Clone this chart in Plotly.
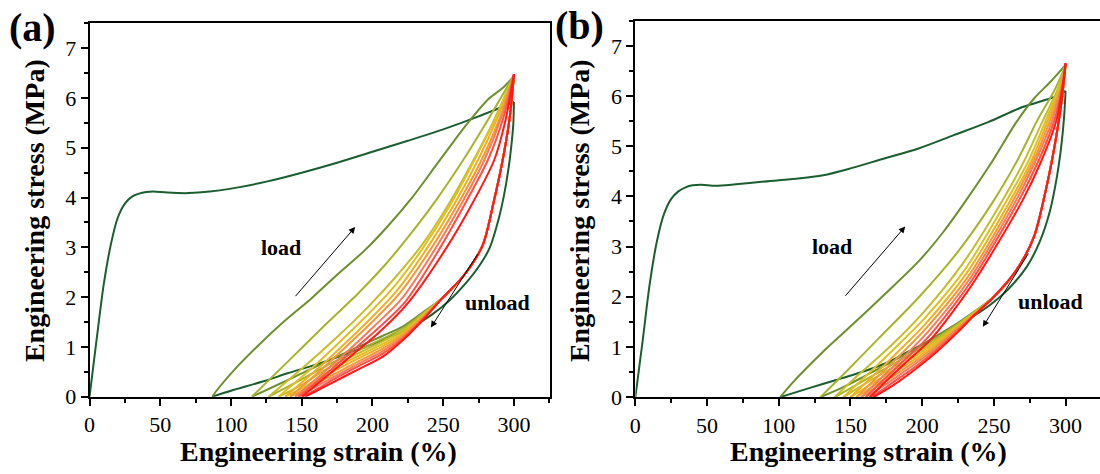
import plotly.graph_objects as go

# ---------------- colours for cycles 1..10 ----------------
CYCLE_COLORS = ["#1b5e30", "#6e8f2c", "#a8b32c", "#c7bd25", "#dfc01f",
                "#eeae28", "#f4963a", "#f77b5c", "#f9514b", "#ff1a1a"]

# ---------------- panel (a) ----------------
A_LOAD_STRAIN = [
    [0, 5, 10, 15, 20, 25, 30, 35, 40, 45, 55, 70, 85, 100, 125, 150, 175, 200, 225, 250, 275, 300],
    [86.7, 90, 102, 120, 137, 157, 175, 194.5, 210, 228, 245, 258, 268, 282, 292, 300],
    [114.8, 140, 165, 190, 207.4, 225, 245, 264, 282, 300],
    [126.6, 150, 175, 195, 215, 235, 252, 268.5, 285, 300],
    [133.6, 155, 175, 195, 215, 236, 255, 272, 287, 300],
    [138.3, 158, 178, 197, 217, 239, 257.5, 274.5, 288, 300],
    [141.8, 161, 180, 199, 219, 242, 260, 277, 290, 300],
    [145.3, 164, 183, 201, 221, 245, 263, 279, 291, 300],
    [147.7, 166, 185, 203, 223, 248, 265.5, 281.5, 292.5, 300],
    [150, 168, 187, 205, 225, 252.5, 270, 286, 294, 300],
]
A_LOAD_STRESS = [
    [0, 1.15, 2.25, 3.05, 3.6, 3.88, 4.02, 4.08, 4.11, 4.12, 4.10, 4.09, 4.12, 4.18, 4.32, 4.50, 4.70, 4.92, 5.14, 5.37, 5.63, 5.92],
    [0, 0.13, 0.53, 1.05, 1.5, 1.98, 2.45, 2.94, 3.4, 4.0, 4.65, 5.15, 5.52, 5.98, 6.2, 6.44],
    [0, 0.7, 1.4, 2.08, 2.6, 3.2, 3.95, 4.75, 5.58, 6.45],
    [0, 0.56, 1.2, 1.75, 2.36, 3.05, 3.78, 4.6, 5.5, 6.45],
    [0, 0.52, 1.05, 1.6, 2.2, 3.0, 3.85, 4.75, 5.6, 6.46],
    [0, 0.48, 1.0, 1.52, 2.12, 3.0, 3.85, 4.75, 5.58, 6.46],
    [0, 0.47, 0.97, 1.48, 2.07, 3.0, 3.85, 4.75, 5.6, 6.47],
    [0, 0.45, 0.93, 1.41, 1.98, 3.0, 3.88, 4.75, 5.6, 6.47],
    [0, 0.43, 0.9, 1.35, 1.9, 3.0, 3.88, 4.75, 5.6, 6.47],
    [0, 0.42, 0.87, 1.3, 1.88, 3.0, 3.85, 4.75, 5.55, 6.48],
]
A_UNLOAD_TOP_STRAIN = [300, 297, 292, 286, 278, 265, 250]
A_UNLOAD_TOP_STRESS = [6.47, 5.6, 4.75, 3.95, 3.05, 2.45, 2.0]
A_UNLOAD1_STRAIN = [300, 299.5, 298, 296, 293, 289, 283, 276, 266, 255, 242, 228, 212, 195, 178, 159.4, 140, 123, 100, 86.7]
A_UNLOAD1_STRESS = [5.92, 5.45, 5.0, 4.55, 4.05, 3.55, 3.0, 2.65, 2.28, 1.95, 1.65, 1.4, 1.2, 1.0, 0.82, 0.64, 0.47, 0.31, 0.12, 0]
A_UNLOAD_LOW_STRAIN = [
    [235, 222, 207, 190, 170, 150, 130, 114.8],
    [235, 222, 207, 190, 170, 150, 126.6],
    [235, 222, 207, 190, 170, 150, 133.6],
    [235, 222, 207, 190, 170, 155, 138.3],
    [235, 222, 207, 190, 170, 155, 141.8],
    [235, 222, 207, 190, 170, 160, 145.3],
    [235, 222, 207, 190, 170, 160, 147.7],
    [235, 222, 207, 190, 170, 160, 150.0],
    [235, 222, 207, 190, 170, 160, 152.4],
]
A_UNLOAD_LOW_STRESS = [
    [1.68, 1.42, 1.22, 1.0, 0.74, 0.47, 0.2, 0],
    [1.66, 1.38, 1.16, 0.93, 0.66, 0.35, 0],
    [1.64, 1.34, 1.11, 0.87, 0.6, 0.24, 0],
    [1.62, 1.30, 1.06, 0.82, 0.53, 0.25, 0],
    [1.60, 1.27, 1.01, 0.77, 0.47, 0.2, 0],
    [1.58, 1.24, 0.96, 0.71, 0.41, 0.25, 0],
    [1.56, 1.21, 0.91, 0.66, 0.36, 0.2, 0],
    [1.54, 1.18, 0.86, 0.61, 0.31, 0.14, 0],
    [1.52, 1.15, 0.80, 0.55, 0.26, 0.11, 0],
]

# ---------------- panel (b) ----------------
B_LOAD_STRAIN = [
    [0, 5, 10, 15, 20, 25, 30, 35, 40, 46, 56, 70, 88, 112, 131, 148, 173, 197, 222, 246, 270, 292, 300],
    [101, 110, 130, 152, 175, 198, 215, 232.5, 250, 265, 278, 290, 300],
    [129, 145, 170, 198, 225, 250, 267, 280, 292, 300],
    [139, 155, 178, 200, 228, 256, 271, 284, 294, 300],
    [145, 160, 180, 201, 230, 259, 274, 286, 295, 300],
    [150, 165, 183, 202, 231, 261.5, 276, 287.5, 296, 300],
    [154, 168, 185, 203, 232, 263.5, 277.5, 289, 296.5, 300],
    [157.5, 171, 187, 204, 233, 265.5, 279, 290.5, 297, 300],
    [160.5, 174, 188, 205, 234, 267.5, 281, 292, 297.5, 300],
    [163.5, 176, 189, 206, 235, 270, 283, 293.5, 298, 300],
]
B_LOAD_STRESS = [
    [0, 1.1, 2.25, 3.1, 3.65, 3.95, 4.1, 4.18, 4.22, 4.23, 4.21, 4.24, 4.29, 4.35, 4.42, 4.54, 4.75, 4.95, 5.22, 5.48, 5.78, 5.98, 6.10],
    [0, 0.3, 0.88, 1.46, 2.08, 2.72, 3.3, 4.0, 4.75, 5.45, 5.95, 6.3, 6.62],
    [0, 0.45, 1.18, 2.0, 2.9, 3.92, 4.75, 5.5, 6.1, 6.6],
    [0, 0.43, 1.02, 1.66, 2.65, 3.92, 4.7, 5.5, 6.1, 6.62],
    [0, 0.4, 0.95, 1.55, 2.55, 3.92, 4.7, 5.5, 6.12, 6.63],
    [0, 0.4, 0.9, 1.45, 2.47, 3.92, 4.7, 5.5, 6.15, 6.63],
    [0, 0.38, 0.85, 1.38, 2.4, 3.92, 4.7, 5.5, 6.15, 6.64],
    [0, 0.37, 0.8, 1.3, 2.35, 3.92, 4.7, 5.5, 6.15, 6.64],
    [0, 0.37, 0.75, 1.22, 2.3, 3.92, 4.7, 5.5, 6.15, 6.65],
    [0, 0.35, 0.7, 1.15, 2.25, 3.92, 4.7, 5.5, 6.2, 6.65],
]
B_UNLOAD_TOP_STRAIN = [300, 297, 292, 286, 278, 265, 250]
B_UNLOAD_TOP_STRESS = [6.63, 5.85, 4.95, 4.1, 3.2, 2.5, 2.0]
B_UNLOAD1_STRAIN = [300, 299, 297, 294, 289, 282, 273, 260, 248, 235, 220, 205, 190, 175, 160, 140, 120, 101]
B_UNLOAD1_STRESS = [6.1, 5.6, 5.0, 4.4, 3.7, 3.1, 2.6, 2.15, 1.85, 1.6, 1.35, 1.12, 0.9, 0.68, 0.52, 0.34, 0.17, 0]
B_UNLOAD_LOW_STRAIN = [
    [237, 225, 210, 195, 180, 160, 145, 129],
    [237, 225, 210, 195, 180, 160, 139],
    [237, 225, 210, 195, 180, 162, 145],
    [237, 225, 210, 195, 180, 165, 150],
    [237, 225, 210, 195, 180, 166, 154],
    [237, 225, 210, 195, 180, 168, 157.5],
    [237, 225, 210, 195, 180, 170, 160.5],
    [237, 225, 210, 195, 180, 172, 163.5],
    [237, 225, 210, 195, 180, 166],
]
B_UNLOAD_LOW_STRESS = [
    [1.72, 1.48, 1.22, 0.96, 0.72, 0.42, 0.2, 0],
    [1.71, 1.46, 1.18, 0.91, 0.66, 0.34, 0],
    [1.70, 1.44, 1.14, 0.86, 0.6, 0.3, 0],
    [1.69, 1.42, 1.10, 0.81, 0.54, 0.27, 0],
    [1.68, 1.40, 1.06, 0.76, 0.48, 0.22, 0],
    [1.67, 1.38, 1.02, 0.71, 0.42, 0.2, 0],
    [1.66, 1.36, 0.98, 0.66, 0.36, 0.17, 0],
    [1.65, 1.33, 0.94, 0.6, 0.3, 0.14, 0],
    [1.65, 1.30, 0.9, 0.55, 0.24, 0],
]

X_TICKS = [0, 50, 100, 150, 200, 250, 300]
Y_TICKS = [0, 1, 2, 3, 4, 5, 6, 7]

FONT = "Liberation Serif"
W, H = 1100, 474
HE = 460.5  # effective vertical scale used for placing paper positions


def py(p):
    return 1 - p / HE


fig = go.Figure()


def add_line(x, y, color, xa, ya):
    fig.add_trace(go.Scatter(x=x, y=y, mode="lines", xaxis=xa, yaxis=ya,
                             line=dict(color=color, width=2, shape="spline", smoothing=0.8),
                             hoverinfo="skip", showlegend=False))


def add_panel(load_x, load_y, top_x, top_y, u1x, u1y, lowx, lowy, xa, ya):
    add_line(load_x[0], load_y[0], CYCLE_COLORS[0], xa, ya)
    add_line(u1x, u1y, CYCLE_COLORS[0], xa, ya)
    for k in range(1, 10):
        c = CYCLE_COLORS[k]
        add_line(load_x[k], load_y[k], c, xa, ya)
        ux = top_x + lowx[k - 1]
        uy = [load_y[k][-1]] + top_y[1:] + lowy[k - 1]
        add_line(ux, uy, c, xa, ya)


add_panel(A_LOAD_STRAIN, A_LOAD_STRESS, A_UNLOAD_TOP_STRAIN, A_UNLOAD_TOP_STRESS,
          A_UNLOAD1_STRAIN, A_UNLOAD1_STRESS, A_UNLOAD_LOW_STRAIN, A_UNLOAD_LOW_STRESS, "x", "y")
add_panel(B_LOAD_STRAIN, B_LOAD_STRESS, B_UNLOAD_TOP_STRAIN, B_UNLOAD_TOP_STRESS,
          B_UNLOAD1_STRAIN, B_UNLOAD1_STRESS, B_UNLOAD_LOW_STRAIN, B_UNLOAD_LOW_STRESS, "x2", "y2")

tickfont = dict(family=FONT, size=22, color="black")
common_x = dict(showline=True, linewidth=2, linecolor="black", mirror=True,
                ticks="outside", ticklen=7, tickwidth=2, tickcolor="black",
                tickmode="array", tickvals=X_TICKS, ticktext=[str(v) for v in X_TICKS],
                minor=dict(dtick=25, tick0=0, ticks="outside", ticklen=4, tickwidth=1.5, tickcolor="black"),
                showgrid=False, zeroline=False, tickfont=tickfont)
common_y = dict(showline=True, linewidth=2, linecolor="black",
                ticks="outside", ticklen=7, tickwidth=2, tickcolor="black",
                tickmode="array", tickvals=Y_TICKS, ticktext=[str(v) for v in Y_TICKS],
                minor=dict(dtick=0.5, tick0=0, ticks="outside", ticklen=4, tickwidth=1.5, tickcolor="black"),
                showgrid=False, zeroline=False, tickfont=tickfont)

fig.update_layout(
    width=W, height=H, autosize=False,
    margin=dict(l=0, r=0, t=0, b=0),
    paper_bgcolor="white", plot_bgcolor="white", showlegend=False,
    xaxis=dict(domain=[84 / W, 546.7 / W], range=[0, 325.3], anchor="y", **common_x),
    yaxis=dict(domain=[py(396.3), py(23.3)], range=[0, 7.5], anchor="x", mirror=True, **common_y),
    xaxis2=dict(domain=[632.8 / W, 1.0], range=[0, 324.0], anchor="y2", **common_x),
    yaxis2=dict(domain=[py(396.7), py(20.7)], range=[0, 7.5], anchor="x2", mirror=False, **common_y),
)

ann = []
title_font = dict(family=FONT, size=28, color="black")
for xc, yc in [(314, 451), (867, 451)]:
    ann.append(dict(text="<b>Engineering strain (%)</b>", xref="paper", yref="paper",
                    x=xc / W, y=py(yc), xanchor="center", yanchor="middle",
                    showarrow=False, font=title_font))
for xc, yc in [(28, 210), (576, 210)]:
    ann.append(dict(text="<b>Engineering stress (MPa)</b>", xref="paper", yref="paper",
                    x=xc / W, y=py(yc), xanchor="center", yanchor="middle",
                    textangle=-90, showarrow=False, font=title_font))
for label, xl, yc in [("(a)", 1, 27), ("(b)", 550, 25)]:
    ann.append(dict(text="<b>" + label + "</b>", xref="paper", yref="paper",
                    x=xl / W, y=py(yc), xanchor="left", yanchor="middle",
                    showarrow=False, font=dict(family=FONT, size=40, color="black")))

lab_font = dict(family=FONT, size=22, color="black")
for xr, yr, lx, ly, ux, uy, arrows in [
    ("x", "y", 135.4, 2.99, 288.6, 1.89, [(187.8, 3.41, 144.7, 1.99), (241.3, 1.39, 274.9, 2.89)]),
    ("x2", "y2", 137.1, 3.0, 289.3, 1.91, [(188.2, 3.40, 145.6, 1.99), (242.3, 1.40, 274.7, 2.89)]),
]:
    ann.append(dict(text="<b>load</b>", xref=xr, yref=yr, x=lx, y=ly, showarrow=False,
                    xanchor="center", yanchor="middle", font=lab_font))
    ann.append(dict(text="<b>unload</b>", xref=xr, yref=yr, x=ux, y=uy, showarrow=False,
                    xanchor="center", yanchor="middle", font=lab_font))
    for hx, hy, tx, ty in arrows:
        ann.append(dict(text="", xref=xr, yref=yr, axref=xr, ayref=yr, x=hx, y=hy, ax=tx, ay=ty,
                        showarrow=True, arrowhead=2, arrowsize=1.3, arrowwidth=1, arrowcolor="black",
                        standoff=0, startstandoff=0))

fig.update_layout(annotations=ann)

PAGE_FIX = (
    "var gd=document.getElementById('{plot_id}');"
    "gd.style.display='block';"
    "if(gd.parentElement){gd.parentElement.style.height='474px';gd.parentElement.style.overflow='hidden';}"
    "document.documentElement.style.margin='0';document.documentElement.style.padding='0';"
    "document.documentElement.style.overflow='hidden';document.documentElement.style.height='474px';"
    "document.body.style.margin='0';document.body.style.padding='0';"
    "document.body.style.overflow='hidden';document.body.style.height='474px';"
)
fig.write_html("out.html", config={"displayModeBar": False}, post_script=PAGE_FIX)
